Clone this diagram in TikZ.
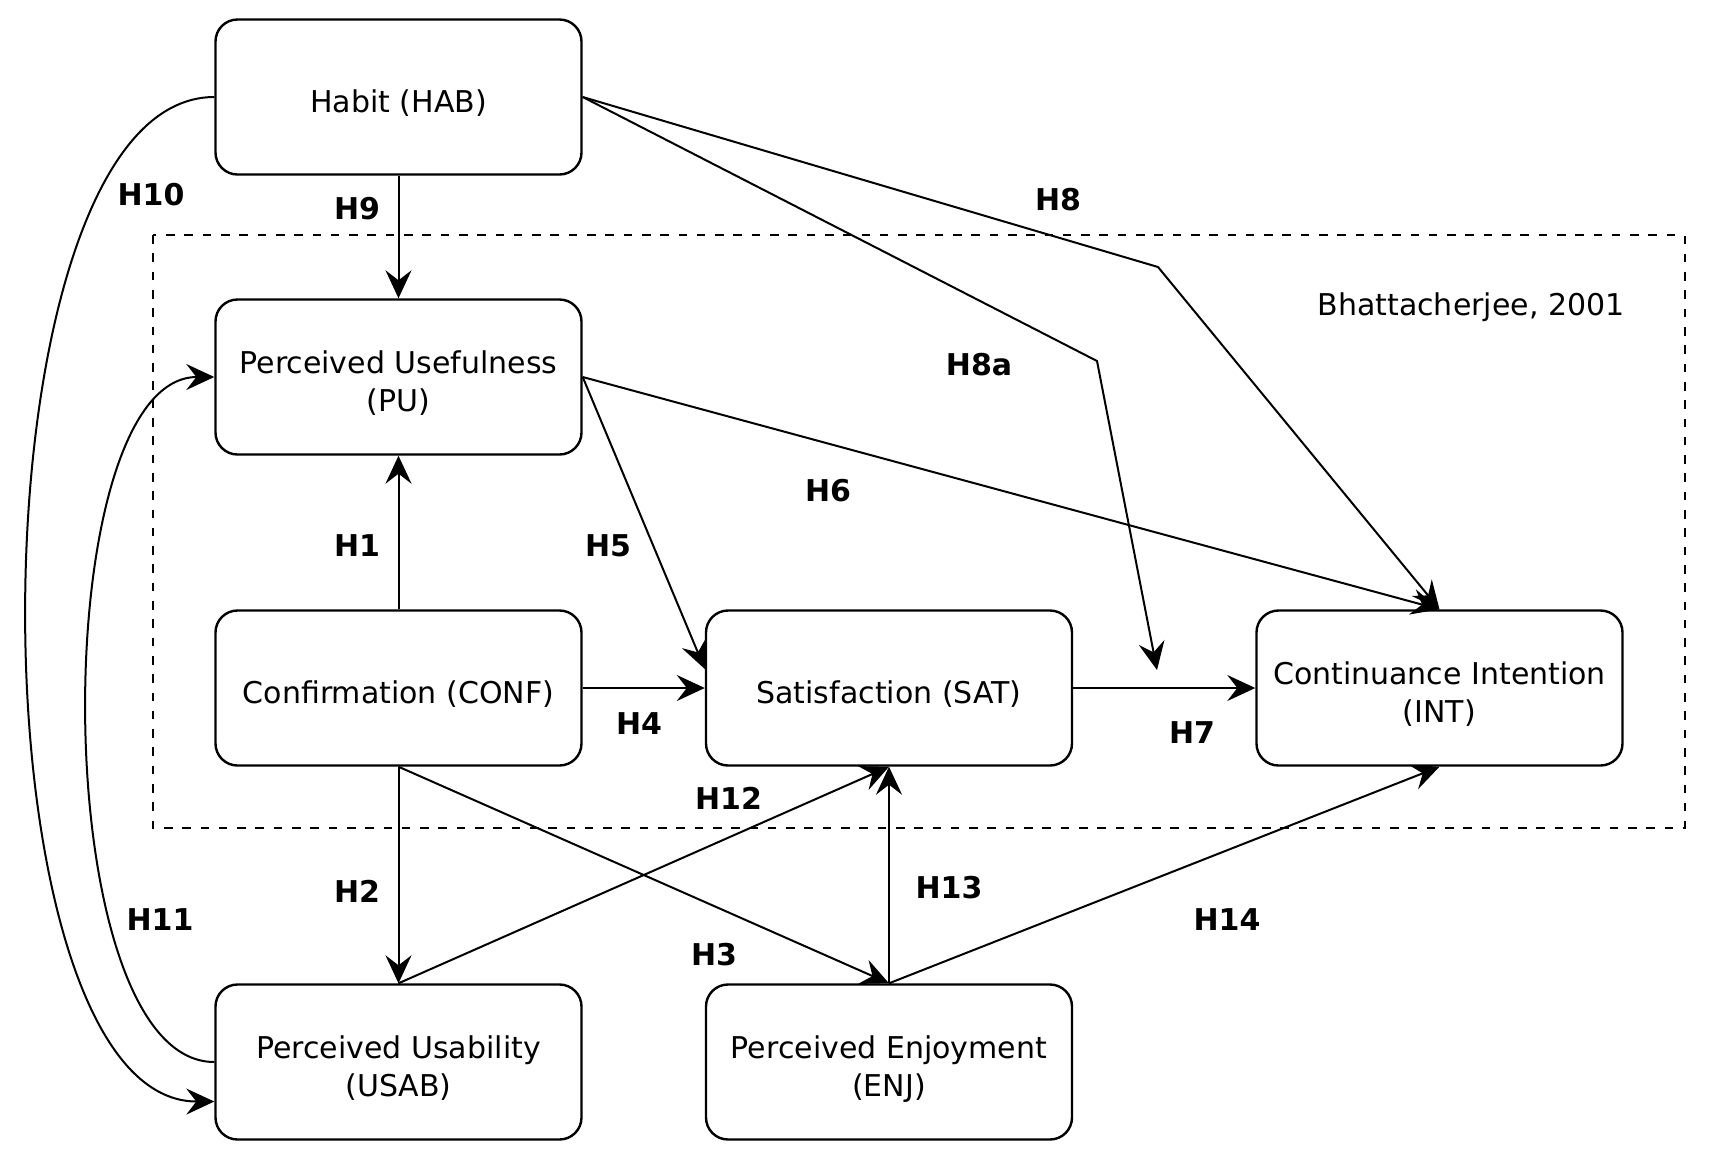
\documentclass[tikz,border=0pt]{standalone}
\usepackage{fontspec}
\setmainfont{DejaVu Sans}
\usetikzlibrary{arrows.meta}
\newcommand{\boxtext}[1]{\raisebox{-4pt}[\height][\depth]{\begin{tabular}{@{}c@{}}#1\end{tabular}}}
\begin{document}
\begin{tikzpicture}[x=0.5pt,y=-0.5pt,
 box/.style={draw, line width=1.2pt, rounded corners=11pt, minimum width=183pt, minimum height=77.5pt, inner sep=0pt, font=\fontsize{15}{19}\selectfont},
 lab/.style={font=\fontsize{15}{18}\selectfont\bfseries, inner sep=0pt},
 note/.style={font=\fontsize{15}{18}\selectfont, inner sep=0pt},
 arr/.style={-{Stealth[length=14pt,width=13pt,inset=5pt]}, line width=1pt},
 frame/.style={draw, line width=1pt, dash pattern=on 4.3pt off 4.85pt}]
\useasboundingbox (0,0) rectangle (1715,1158);
% frame
\draw[frame] (153,235) rectangle (1684.5,828);
% boxes
\node[box] (hab) at (398.5,97) {\boxtext{Habit (HAB)}};
\node[box] (pu) at (398.5,377) {\boxtext{Perceived Usefulness\\(PU)}};
\node[box] (conf) at (398.5,688) {\boxtext{Confirmation (CONF)}};
\node[box] (sat) at (889,688) {\boxtext{Satisfaction (SAT)}};
\node[box] (int) at (1439.5,688) {\boxtext{Continuance Intention\\(INT)}};
\node[box] (usab) at (398.5,1062) {\boxtext{Perceived Usability\\(USAB)}};
\node[box] (enj) at (889,1062) {\boxtext{Perceived Enjoyment\\(ENJ)}};
\node[note] (bh) at (1471,307) {Bhattacherjee, 2001};
% bend points
\coordinate (b8) at (1158,267);
\coordinate (b8a) at (1097,361);
\coordinate (e8a) at (1157,670);
% connectors
\draw[arr] (hab) -- (pu);
\draw[arr] (conf) -- (pu);
\draw[arr] (conf) -- (usab);
\draw[arr] (conf.south) -- (enj.north);
\draw[arr] (conf) -- (sat);
\draw[arr] (sat) -- (int);
\draw[arr] (pu.east) -- ([yshift=9.5pt]sat.west);
\draw[arr] (pu.east) -- (int.north);
\draw[arr] (hab.east) -- (b8) -- (int.north);
\draw[arr] (hab.east) -- (b8a) -- (e8a);
\draw[arr] (usab.north) -- (sat.south);
\draw[arr] (enj.north) -- (sat.south);
\draw[arr] (enj.north) -- (int.south);
\draw[arr] (hab.west) .. controls (-35,97) and (-35,1102) .. ([yshift=-19.75pt]usab.west);
\draw[arr] (usab.west) .. controls (45,1062) and (45,377) .. (pu.west);
% labels
\node[lab] (l10) at (151,195) {H10};
\node[lab] (l9) at (357,209) {H9};
\node[lab] (l8) at (1058,200) {H8};
\node[lab] (l8a) at (979,365) {H8a};
\node[lab] (l6) at (828,491) {H6};
\node[lab] (l1) at (357,546) {H1};
\node[lab] (l5) at (608,546) {H5};
\node[lab] (l4) at (639,724) {H4};
\node[lab] (l7) at (1192,733) {H7};
\node[lab] (l12) at (728.5,798.5) {H12};
\node[lab] (l13) at (949,888) {H13};
\node[lab] (l2) at (357,891) {H2};
\node[lab] (l11) at (160,920) {H11};
\node[lab] (l3) at (714,955) {H3};
\node[lab] (l14) at (1227,920) {H14};
\end{tikzpicture}
\end{document}
